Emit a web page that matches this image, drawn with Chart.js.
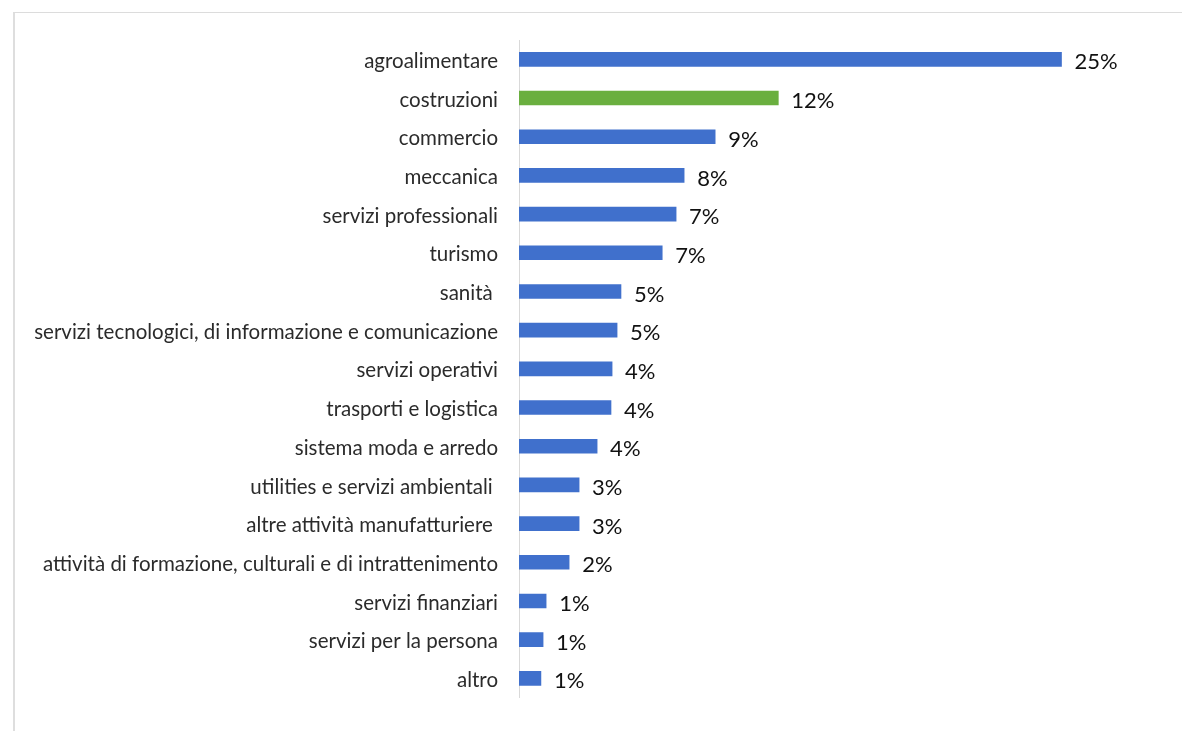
<!DOCTYPE html>
<html>
<head>
<meta charset="utf-8">
<script src="https://cdn.jsdelivr.net/npm/chart.js@4.4.0/dist/chart.umd.min.js"></script>
<style>
    html, body { margin: 0; padding: 0; background: #fff; }
    #wrap { position: relative; width: 1182px; height: 731px; overflow: hidden; }
    #frame {
        position: absolute; left: 13px; top: 12px; width: 1200px; height: 740px;
        border-left: 2px solid #dedede; border-top: 1px solid #dcdcdc; box-sizing: border-box;
    }
    canvas { position: absolute; left: 0; top: 0; }
</style>
</head>
<body>
<div id="wrap">
    <div id="frame"></div>
    <canvas id="sectorChart" width="1182" height="731"></canvas>
</div>
<script>
// settori, dall'alto in basso
const categories = [
    "agroalimentare",
    "costruzioni",
    "commercio",
    "meccanica",
    "servizi professionali",
    "turismo",
    "sanità ",
    "servizi tecnologici, di informazione e comunicazione",
    "servizi operativi",
    "trasporti e logistica",
    "sistema moda e arredo",
    "utilities e servizi ambientali ",
    "altre attività manufatturiere ",
    "attività di formazione, culturali e di intrattenimento",
    "servizi finanziari",
    "servizi per la persona",
    "altro"
];
const shares = [25.0, 11.95, 9.04, 7.61, 7.24, 6.60, 4.70, 4.52, 4.29, 4.24, 3.60, 2.77, 2.77, 2.31, 1.25, 1.11, 1.01];
const shareLabels = ["25%", "12%", "9%", "8%", "7%", "7%", "5%", "5%", "4%", "4%", "4%", "3%", "3%", "2%", "1%", "1%", "1%"];
const highlighted = "costruzioni";

const BLUE = "#4070cc";
const GREEN = "#6aaf3f";

document.addEventListener("DOMContentLoaded", () => {
    const canvas = document.getElementById("sectorChart");
    const ctx = canvas.getContext("2d");

    // etichette percentuali a destra delle barre
    const valueLabels = {
        id: "valueLabels",
        afterDatasetsDraw(chart) {
            const meta = chart.getDatasetMeta(0);
            const c = chart.ctx;
            c.save();
            c.font = "22px Lato";
            c.fillStyle = "#111";
            c.textAlign = "left";
            c.textBaseline = "middle";
            meta.data.forEach((bar, i) => {
                c.fillText(shareLabels[i], bar.x + 13, bar.y + 3);
            });
            c.restore();
        }
    };

    new Chart(ctx, {
        type: "bar",
        data: {
            labels: categories,
            datasets: [{
                data: shares,
                backgroundColor: categories.map(c => c === highlighted ? GREEN : BLUE),
                borderWidth: 0,
                barThickness: 14
            }]
        },
        options: {
            indexAxis: "y",
            responsive: false,
            animation: false,
            layout: { padding: { top: 40, bottom: 21, right: 12, left: 0 } },
            plugins: {
                legend: { display: false },
                tooltip: { enabled: false }
            },
            scales: {
                x: {
                    display: false,
                    min: 0,
                    max: 30
                },
                y: {
                    afterFit(scale) { scale.width = 519; },
                    grid: { display: false, drawTicks: false },
                    border: { display: true, color: "#d9d9d9", width: 1 },
                    ticks: {
                        color: "#2b2b2b",
                        font: { family: "Lato", size: 20.5 },
                        padding: 21,
                        labelOffset: 2,
                        autoSkip: false
                    }
                }
            }
        },
        plugins: [valueLabels]
    });
});
</script>
</body>
</html>
